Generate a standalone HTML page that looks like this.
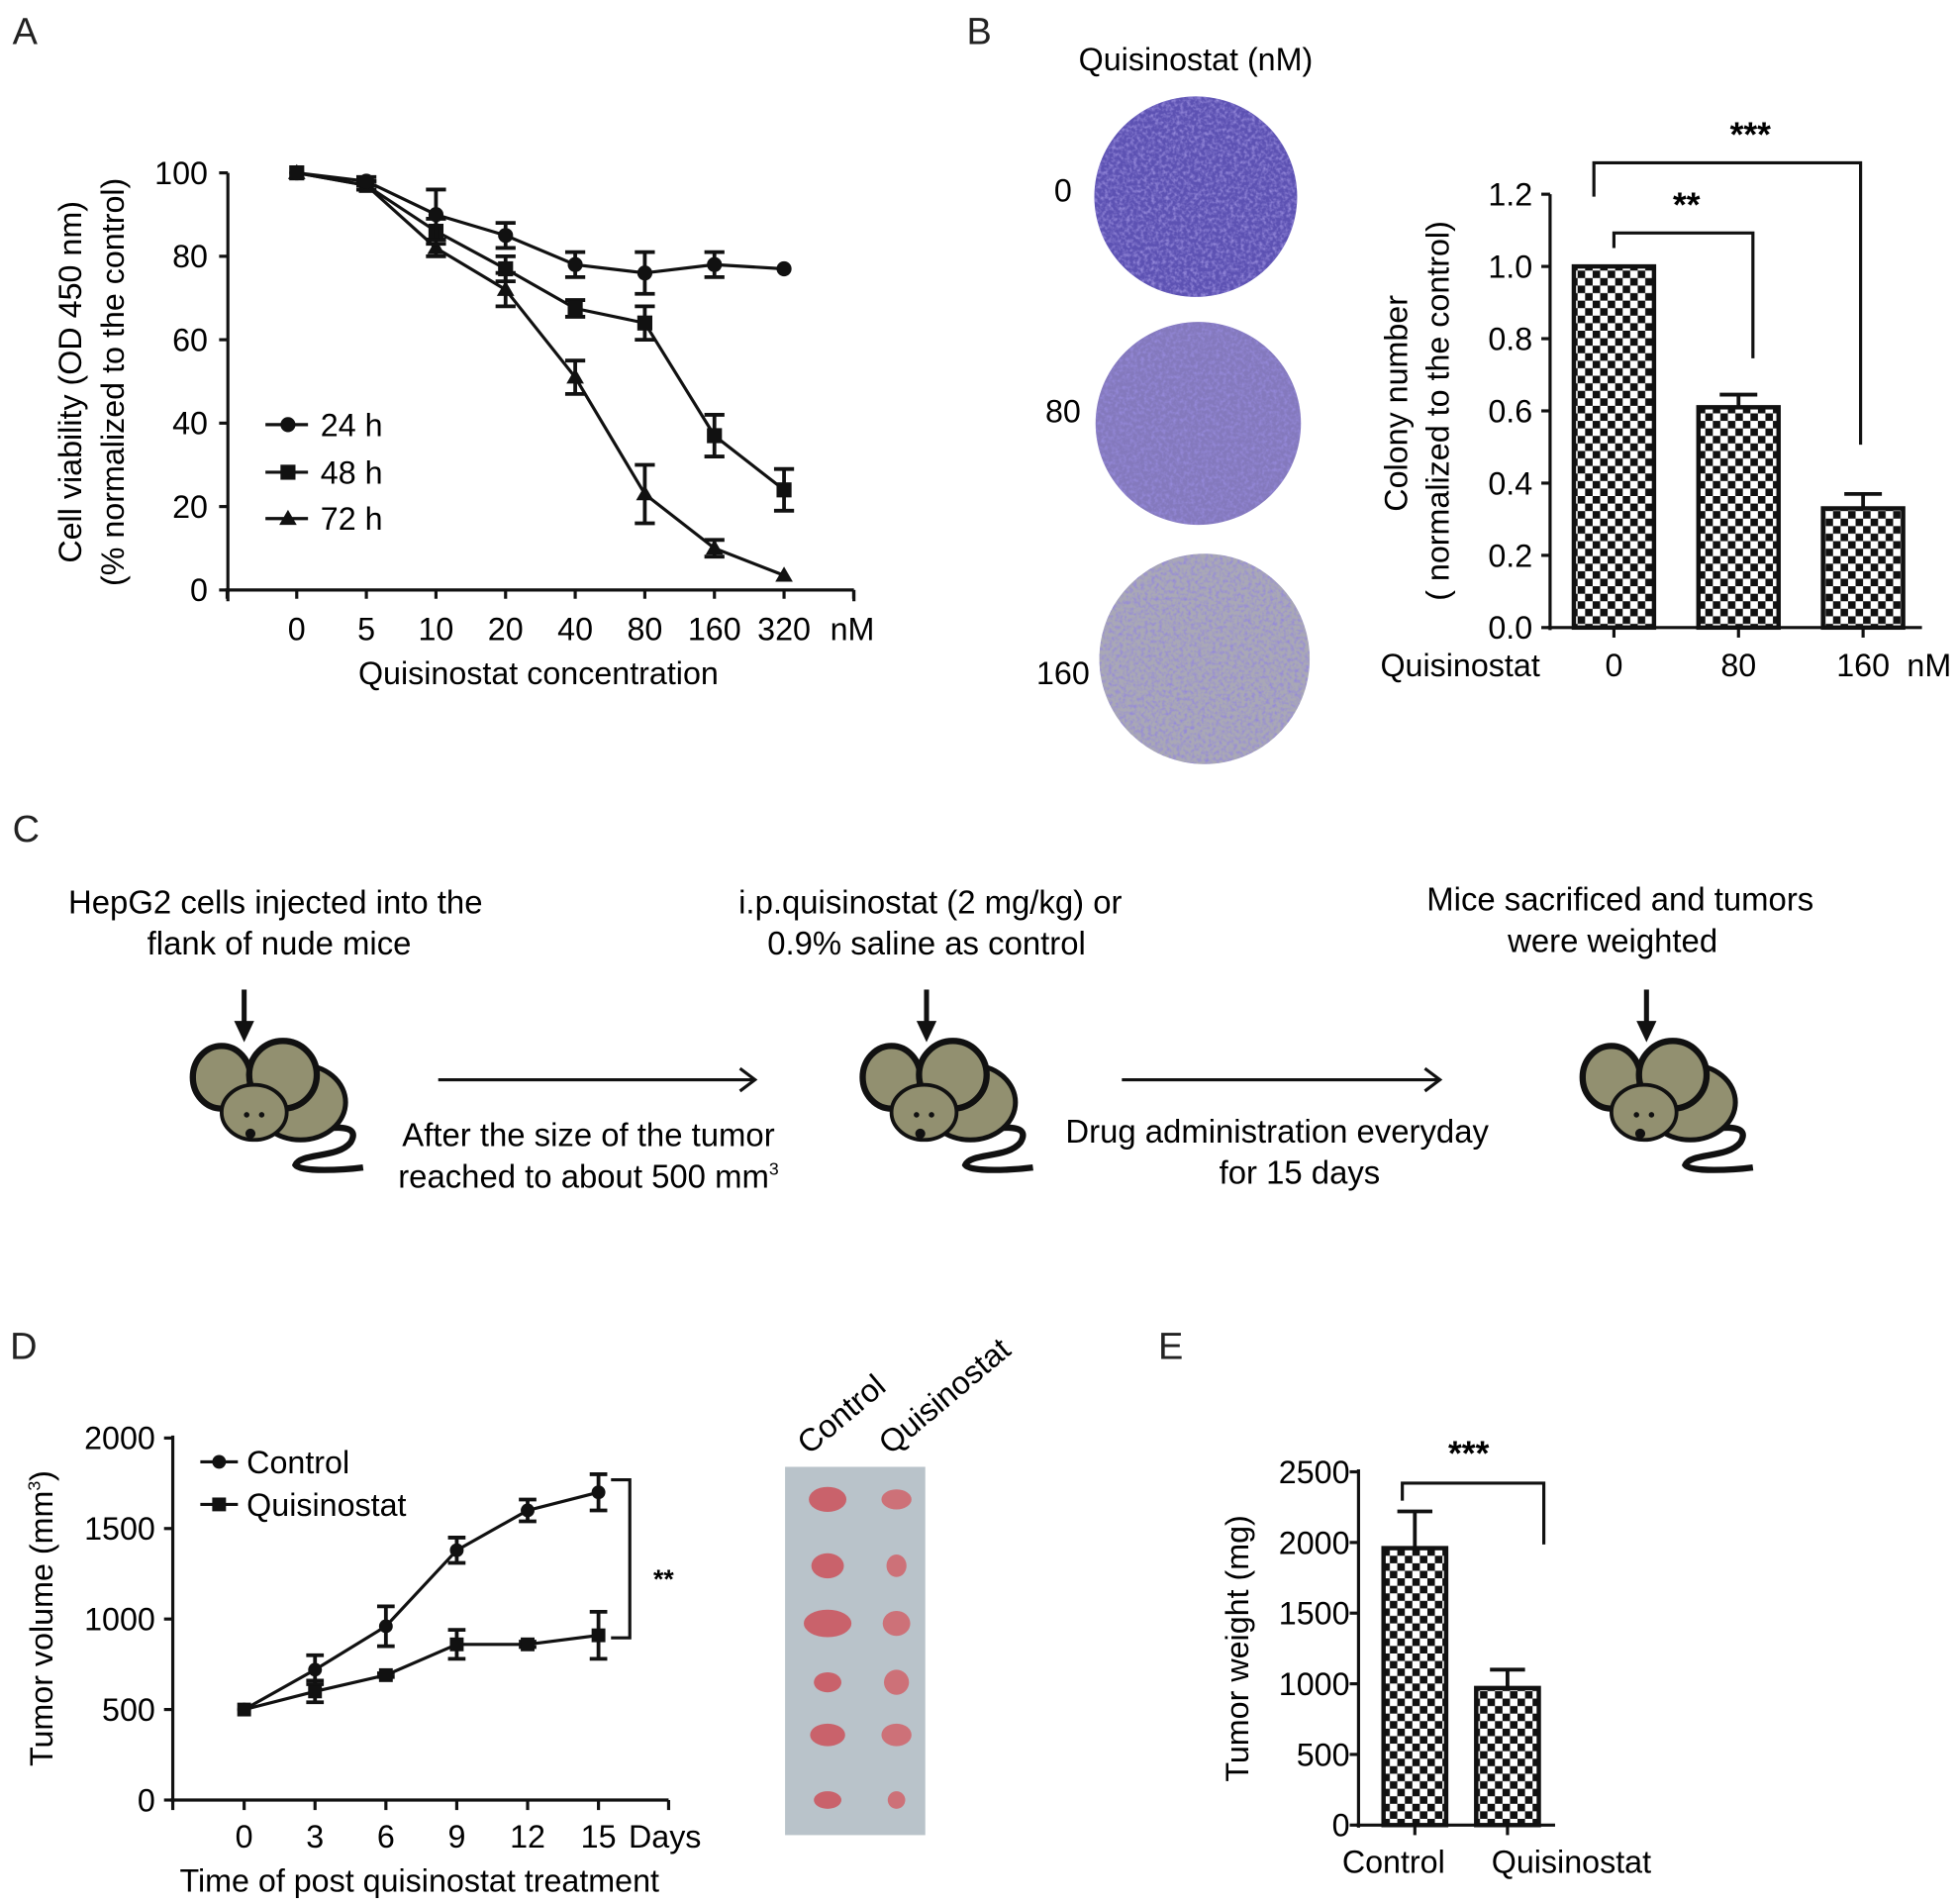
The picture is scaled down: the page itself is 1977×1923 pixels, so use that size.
<!DOCTYPE html>
<html><head><meta charset="utf-8"><style>
html,body{margin:0;padding:0;background:#fff;}
svg{display:block;font-family:"Liberation Sans",Arial,sans-serif;}
</style></head><body>
<svg id="fig" width="1977" height="1923" viewBox="0 0 1563 1520" preserveAspectRatio="none">
<defs>
<pattern id="chk" width="12" height="12" patternUnits="userSpaceOnUse"><rect width="12" height="12" fill="#fff"/><rect width="6" height="6" fill="#111"/><rect x="6" y="6" width="6" height="6" fill="#111"/></pattern>
<filter id="grain" x="0" y="0" width="100%" height="100%"><feTurbulence type="fractalNoise" baseFrequency="0.35" numOctaves="2" seed="3"/><feColorMatrix values="0 0 0 0 0.3  0 0 0 0 0.25  0 0 0 0 0.7  0 0 0 2.2 -0.9"/><feComposite in2="SourceGraphic" operator="in"/></filter>
</defs>
<g font-size="30" fill="#222"><text x="10" y="35">A</text><text x="772" y="35">B</text><text x="10" y="672">C</text><text x="8" y="1085">D</text><text x="925" y="1085">E</text></g>
<g id="A"></g>
<g id="Bplates"></g>
<g id="B"></g>
<g id="C"></g>
<g id="D"></g>
<g id="Dphoto"></g>
<g id="E"></g>
</svg>
<script>
// Panel A data
const aCats = ['0','5','10','20','40','80','160','320'];
const a24 = [100,98,90,85,78,76,78,77];
const a24e = [0,1,6,3,3,5,3,0];
const a48 = [100,97,86,77,67.5,64,37,24];
const a48e = [0,1,3,3,2,4,5,5];
const a72 = [100,97,82,72,51,23,10,3.5];
const a72e = [0,1,2,4,4,7,2,0];
const aTicks = [0,20,40,60,80,100];
// Panel B data
const bCats = ['0','80','160'];
const bVals = [1.0,0.61,0.33];
const bErr = [0,0.035,0.04];
const bTicks = ['0.0','0.2','0.4','0.6','0.8','1.0','1.2'];
// Panel D data
const dDays = ['0','3','6','9','12','15'];
const dCtrl = [500,720,960,1380,1600,1700];
const dCtrlE = [0,80,110,70,60,100];
const dQuis = [500,600,690,860,860,910];
const dQuisE = [0,60,10,80,15,130];
const dTicks = [0,500,1000,1500,2000];
// Panel E data
const eCats = ['Control','Quisinostat'];
const eVals = [1960,970];
const eErr = [260,130];
const eTicks = [0,500,1000,1500,2000,2500];

const FS=25.5;
const NS='http://www.w3.org/2000/svg';
function el(p,tag,at,txt){const e=document.createElementNS(NS,tag);for(const k in at)e.setAttribute(k,at[k]);if(txt!==undefined)e.textContent=txt;p.appendChild(e);return e;}
function ln(p,x1,y1,x2,y2,w){return el(p,'line',{x1,y1,x2,y2,stroke:'#111','stroke-width':w||2.5});}

// ---------- Panel A
(function(){
const g=document.getElementById('A');
const y=v=>471-v*3.33, x=i=>237+i*55.6;
ln(g,182,138,182,473);ln(g,180,471,682,471);
aTicks.forEach(t=>{ln(g,175,y(t),182,y(t));const e=el(g,'text',{x:166,y:y(t)+9,'text-anchor':'end','font-size':FS},t);});
for(let i=-1;i<=8;i++){ln(g,x(i),471,x(i),478);}
ln(g,182,471,182,480);ln(g,682,471,682,480);
aCats.forEach((c,i)=>{const e=el(g,'text',{x:x(i),y:511,'text-anchor':'middle','font-size':FS},c);});
el(g,'text',{x:663,y:511,'font-size':FS},'nM');
let t=el(g,'text',{x:430,y:546,'text-anchor':'middle','font-size':FS},'Quisinostat concentration');
t=el(g,'text',{transform:'translate(65,305) rotate(-90)','text-anchor':'middle','font-size':FS},'Cell viability (OD 450 nm)');
el(g,'text',{transform:'translate(99,305) rotate(-90)','text-anchor':'middle','font-size':FS},'(% normalized to the control)');
function series(vals,errs,mk,name){
 const s=el(g,'g',{});
 el(s,'polyline',{points:vals.map((v,i)=>x(i)+','+y(v)).join(' '),fill:'none',stroke:'#111','stroke-width':2.5});
 vals.forEach((v,i)=>{if(errs[i]>0){ln(s,x(i),y(v+errs[i]),x(i),y(v-errs[i]),3);ln(s,x(i)-8,y(v+errs[i]),x(i)+8,y(v+errs[i]),3);ln(s,x(i)-8,y(v-errs[i]),x(i)+8,y(v-errs[i]),3);}marker(s,mk,x(i),y(v));});
}
function marker(s,mk,cx,cy){
 if(mk=='c')el(s,'circle',{cx,cy,r:6,fill:'#111'});
 else if(mk=='s')el(s,'rect',{x:cx-6,y:cy-6,width:12,height:12,fill:'#111'});
 else el(s,'polygon',{points:`${cx},${cy-7} ${cx-7},${cy+5} ${cx+7},${cy+5}`,fill:'#111'});
}
series(a72,a72e,'t','series-72h');series(a48,a48e,'s','series-48h');series(a24,a24e,'c','series-24h');
[['c','24 h',339],['s','48 h',377],['t','72 h',414]].forEach(l=>{const lg=el(g,'g',{});ln(lg,212,l[2],246,l[2]);marker(lg,l[0],230,l[2]);el(lg,'text',{x:256,y:l[2]+9,'font-size':FS},l[1]);});
})();

// ---------- Panel B plates
(function(){
const g=document.getElementById('Bplates');
el(g,'text',{x:955,y:56,'text-anchor':'middle','font-size':FS},'Quisinostat (nM)');
[[955,157,81,80,'#5d52b3','0',849,161],[957,338,82,81,'#8479bd','80',849,337],[962,526,84,84,'#a9a8b6','160',849,546]].forEach(p=>{
 const pg=el(g,'g',{});
 el(pg,'ellipse',{cx:p[0],cy:p[1],rx:p[2],ry:p[3],fill:p[4]});
 el(pg,'ellipse',{cx:p[0],cy:p[1],rx:p[2],ry:p[3],fill:p[4],filter:'url(#grain)'});
 el(g,'text',{x:p[6],y:p[7],'text-anchor':'middle','font-size':FS},p[5]);
});
})();

// ---------- Panel B bars
(function(){
const g=document.getElementById('B');
const y=v=>501-v*288.3, x=i=>1289+i*99.5;
ln(g,1238,155,1238,503);ln(g,1236,501,1535,501);
bTicks.forEach(t=>{ln(g,1231,y(+t),1238,y(+t));el(g,'text',{x:1224,y:y(+t)+9,'text-anchor':'end','font-size':FS},t);});
bVals.forEach((v,i)=>{
 if(bErr[i]>0){ln(g,x(i),y(v),x(i),y(v+bErr[i]),3);ln(g,x(i)-15,y(v+bErr[i]),x(i)+15,y(v+bErr[i]),3);}
 const r=el(g,'rect',{x:x(i)-32,y:y(v),width:64,height:y(0)-y(v),fill:'url(#chk)',stroke:'#111','stroke-width':3.5});
 
 ln(g,x(i),501,x(i),509);
 el(g,'text',{x:x(i),y:540,'text-anchor':'middle','font-size':FS},bCats[i]);
});
el(g,'text',{x:1230,y:540,'text-anchor':'end','font-size':FS},'Quisinostat');
el(g,'text',{x:1523,y:540,'font-size':FS},'nM');
el(g,'polyline',{points:'1289,198 1289,186 1400,186 1400,286',fill:'none',stroke:'#111','stroke-width':2.5});
el(g,'polyline',{points:'1273,157 1273,130 1486,130 1486,355',fill:'none',stroke:'#111','stroke-width':2.5});
el(g,'text',{x:1347,y:173,'text-anchor':'middle','font-size':28,'font-weight':'bold'},'**');
el(g,'text',{x:1398,y:117,'text-anchor':'middle','font-size':28,'font-weight':'bold'},'***');
let t=el(g,'text',{transform:'translate(1124,322) rotate(-90)','text-anchor':'middle','font-size':FS},'Colony number');
el(g,'text',{transform:'translate(1157,328) rotate(-90)','text-anchor':'middle','font-size':FS},'( normalized to the control)');
})();

// ---------- Panel C
(function(){
const g=document.getElementById('C');
const fs=26;
[[220,729,'HepG2 cells injected into the'],[223,762,'flank of nude mice'],[743,729,'i.p.quisinostat (2 mg/kg) or'],[740,762,'0.9% saline as control'],[1294,727,'Mice sacrificed and tumors'],[1288,760,'were weighted'],[470,915,'After the size of the tumor'],[1020,912,'Drug administration everyday'],[1038,945,'for 15 days']].forEach(a=>el(g,'text',{x:a[0],y:a[1],'text-anchor':'middle','font-size':fs},a[2]));
const t=el(g,'text',{x:318,y:948,'font-size':fs},'reached to about 500 mm');el(t,'tspan',{'font-size':14,dy:-10},'3');
function arrowH(x1,x2,yy){ln(g,x1,yy,x2,yy,2.5);el(g,'polyline',{points:`${x2-12},${yy-9} ${x2},${yy} ${x2-12},${yy+9}`,fill:'none',stroke:'#111','stroke-width':2.5});}
arrowH(350,603,862);arrowH(896,1150,862);
function mouse(cx,ax){
 const m=el(g,'g',{transform:`translate(${cx},0)`});
 
 ln(m,ax,790,ax,818,4);el(m,'polygon',{points:`${ax-8},815 ${ax+8},815 ${ax},832`,fill:'#111'});
 el(m,'path',{d:'M235,905 C260,900 290,895 280,912 C270,925 240,920 236,930 C240,936 275,934 290,932',fill:'none',stroke:'#111','stroke-width':5});
 el(m,'ellipse',{cx:240,cy:880,rx:36,ry:30,fill:'#929070',stroke:'#111','stroke-width':4});
 el(m,'ellipse',{cx:177,cy:860,rx:23,ry:25,fill:'#929070',stroke:'#111','stroke-width':5});
 el(m,'ellipse',{cx:226,cy:858,rx:27,ry:27,fill:'#929070',stroke:'#111','stroke-width':5});
 el(m,'ellipse',{cx:203,cy:888,rx:26,ry:22,fill:'#929070',stroke:'#111','stroke-width':3});
 el(m,'circle',{cx:197,cy:890,r:2.2,fill:'#111'});el(m,'circle',{cx:209,cy:890,r:2.2,fill:'#111'});
 el(m,'circle',{cx:200,cy:905,r:4,fill:'#111'});
}
mouse(0,195);mouse(535,205);mouse(1110,205);
})();

// ---------- Panel D
(function(){
const g=document.getElementById('D');
const y=v=>1437-v*0.1445, x=i=>195+i*56.6;
ln(g,138,1146,138,1439);ln(g,136,1437,534,1437);
dTicks.forEach(t=>{ln(g,131,y(t),138,y(t));el(g,'text',{x:124,y:y(t)+9,'text-anchor':'end','font-size':FS},t);});
ln(g,138,1437,138,1445);ln(g,534,1437,534,1445);
dDays.forEach((d,i)=>{ln(g,x(i),1437,x(i),1445);el(g,'text',{x:x(i),y:1475,'text-anchor':'middle','font-size':FS},d);});
el(g,'text',{x:502,y:1475,'font-size':FS},'Days');
let t=el(g,'text',{x:335,y:1510,'text-anchor':'middle','font-size':FS},'Time of post quisinostat treatment');
t=el(g,'text',{transform:'translate(42,1292) rotate(-90)','text-anchor':'middle','font-size':FS},'Tumor volume (mm');el(t,'tspan',{'font-size':14,dy:-10},'3');el(t,'tspan',{dy:10},')');

function series(vals,errs,mk,name){
 const s=el(g,'g',{});
 el(s,'polyline',{points:vals.map((v,i)=>x(i)+','+y(v)).join(' '),fill:'none',stroke:'#111','stroke-width':2.5});
 vals.forEach((v,i)=>{if(errs[i]>0){ln(s,x(i),y(v+errs[i]),x(i),y(v-errs[i]),3);ln(s,x(i)-7,y(v+errs[i]),x(i)+7,y(v+errs[i]),3);ln(s,x(i)-7,y(v-errs[i]),x(i)+7,y(v-errs[i]),3);}
 if(mk=='c')el(s,'circle',{cx:x(i),cy:y(v),r:5.5,fill:'#111'});else el(s,'rect',{x:x(i)-5.5,y:y(v)-5.5,width:11,height:11,fill:'#111'});});
}
series(dQuis,dQuisE,'s','series-quisinostat');series(dCtrl,dCtrlE,'c','series-control');
[['c','Control',1167],['s','Quisinostat',1201]].forEach(l=>{const lg=el(g,'g',{});ln(lg,160,l[2],190,l[2]);if(l[0]=='c')el(lg,'circle',{cx:175,cy:l[2],r:5.5,fill:'#111'});else el(lg,'rect',{x:169.5,y:l[2]-5.5,width:11,height:11,fill:'#111'});el(lg,'text',{x:197,y:l[2]+9,'font-size':FS},l[1]);});
el(g,'polyline',{points:`488,${y(dCtrl[5])-10} 503,${y(dCtrl[5])-10} 503,${y(dQuis[5])+2} 488,${y(dQuis[5])+2}`,fill:'none',stroke:'#111','stroke-width':2.5});
el(g,'text',{x:530,y:1268,'text-anchor':'middle','font-size':21,'font-weight':'bold'},'**');
})();

// ---------- Tumor photo
(function(){
const g=document.getElementById('Dphoto');
el(g,'rect',{x:627,y:1171,width:112,height:294,fill:'#b9c3ca'});
const rows=[1197,1250,1296,1343,1385,1437];
const cs=[[15,10],[13,10],[19,11],[11,8],[14,9],[11,7]], qs=[[12,8],[8,9],[11,10],[10,10],[12,9],[7,7]];
rows.forEach((r,i)=>{el(g,'ellipse',{cx:661,cy:r,rx:cs[i][0],ry:cs[i][1],fill:'#c9626b'});el(g,'ellipse',{cx:716,cy:r,rx:qs[i][0],ry:qs[i][1],fill:'#cd7178'});});
el(g,'text',{transform:'translate(646,1162) rotate(-40)','font-size':FS},'Control');
el(g,'text',{transform:'translate(711,1162) rotate(-40)','font-size':FS},'Quisinostat');
})();

// ---------- Panel E
(function(){
const g=document.getElementById('E');
const y=v=>1457-v*0.1128, x=i=>1130+i*74;
ln(g,1085,1173,1085,1459);ln(g,1083,1457,1242,1457);
eTicks.forEach(t=>{ln(g,1078,y(t),1085,y(t));el(g,'text',{x:1078,y:y(t)+9,'text-anchor':'end','font-size':FS},t);});
eVals.forEach((v,i)=>{
 ln(g,x(i),y(v),x(i),y(v+eErr[i]),3);ln(g,x(i)-14,y(v+eErr[i]),x(i)+14,y(v+eErr[i]),3);
 const r=el(g,'rect',{x:x(i)-25,y:y(v),width:50,height:y(0)-y(v),fill:'url(#chk)',stroke:'#111','stroke-width':3.5});
 
 ln(g,x(i),1457,x(i),1465);
});
el(g,'text',{x:1113,y:1495,'text-anchor':'middle','font-size':FS},eCats[0]);
el(g,'text',{x:1255,y:1495,'text-anchor':'middle','font-size':FS},eCats[1]);
el(g,'polyline',{points:'1120,1198 1120,1184 1233,1184 1233,1233',fill:'none',stroke:'#111','stroke-width':2.5});
el(g,'text',{x:1173,y:1170,'text-anchor':'middle','font-size':28,'font-weight':'bold'},'***');
let t=el(g,'text',{transform:'translate(997,1316) rotate(-90)','text-anchor':'middle','font-size':FS},'Tumor weight (mg)');
})();
</script>
</body></html>
